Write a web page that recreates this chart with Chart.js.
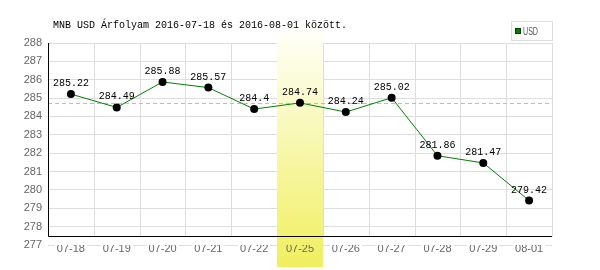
<!DOCTYPE html>
<html>
<head>
<meta charset="utf-8">
<script src="https://cdn.jsdelivr.net/npm/chart.js@4"></script>
<style>
  body { margin: 0; background: #fff; }
  canvas { display: block; }
</style>
</head>
<body>
<canvas id="rateChart" width="600" height="270"></canvas>
<script>
const titleText = 'MNB USD Árfolyam 2016-07-18 és 2016-08-01 között.';
const seriesName = 'USD';
const dates = ['07-18', '07-19', '07-20', '07-21', '07-22', '07-25', '07-26', '07-27', '07-28', '07-29', '08-01'];
const usdRates = [285.22, 284.49, 285.88, 285.57, 284.4, 284.74, 284.24, 285.02, 281.86, 281.47, 279.42];
const highlightDate = '07-25';
const yMin = 277, yMax = 288;

const monoFont = '10px "Liberation Mono", "DejaVu Sans Mono", monospace';
const sansFont = { family: '"Liberation Sans", Arial, sans-serif', size: 11 };

// band, grid columns, axis lines and the reference dashed line
const decorPlugin = {
    id: 'decor',
    beforeDatasetsDraw: (chart) => {
        const { ctx, chartArea } = chart;
        const x = chart.scales.x, y = chart.scales.y;
        const cell = x.width / dates.length;
        const axisY = Math.round(chartArea.bottom - 9) + 0.5;

        ctx.save();
        ctx.strokeStyle = '#dddddd';
        ctx.lineWidth = 1;
        for (let i = 1; i <= dates.length; i++) {
            const gx = Math.round(x.getPixelForValue(i - 1) + cell / 2) + 0.5;
            ctx.beginPath();
            ctx.moveTo(gx, chartArea.top);
            ctx.lineTo(gx, axisY);
            ctx.stroke();
        }

        const hi = dates.indexOf(highlightDate);
        const bx = Math.round(x.getPixelForValue(hi) - cell / 2);
        const grad = ctx.createLinearGradient(0, 30, 0, 267);
        grad.addColorStop(0, '#fffffa');
        grad.addColorStop(1, '#f0ef5e');
        ctx.fillStyle = grad;
        ctx.fillRect(bx, 30, Math.round(cell), 237);

        const dy = Math.round(y.getPixelForValue(usdRates[hi])) + 0.5;
        ctx.strokeStyle = '#a8cca8';
        ctx.setLineDash([4, 3]);
        ctx.beginPath();
        ctx.moveTo(chartArea.left, dy);
        ctx.lineTo(chartArea.right, dy);
        ctx.stroke();
        ctx.setLineDash([]);

        ctx.strokeStyle = '#000';
        ctx.beginPath();
        ctx.moveTo(chartArea.left + 0.5, chartArea.top);
        ctx.lineTo(chartArea.left + 0.5, axisY);
        ctx.lineTo(chartArea.right, axisY);
        ctx.stroke();
        ctx.restore();
    },
    afterDatasetsDraw: (chart) => {
        const { ctx } = chart;
        const meta = chart.getDatasetMeta(0);
        ctx.save();
        ctx.font = monoFont;
        ctx.fillStyle = '#000';
        ctx.textAlign = 'center';
        ctx.textBaseline = 'alphabetic';
        meta.data.forEach((pt, i) => {
            ctx.fillText(String(usdRates[i]), pt.x, pt.y - 8);
        });
        ctx.restore();
    },
    afterDraw: (chart) => {
        const { ctx } = chart;
        ctx.save();
        ctx.font = monoFont;
        ctx.fillStyle = '#000';
        ctx.textBaseline = 'alphabetic';
        ctx.fillText(titleText, 53, 28);

        ctx.strokeStyle = '#dddddd';
        ctx.lineWidth = 1;
        ctx.fillStyle = '#fff';
        ctx.fillRect(511, 21, 42, 20);
        ctx.strokeRect(511.5, 21.5, 41, 19);
        ctx.fillStyle = '#008000';
        ctx.fillRect(515, 28, 6, 6);
        ctx.strokeStyle = '#004400';
        ctx.strokeRect(515.5, 28.5, 5, 5);
        ctx.fillStyle = '#555';
        ctx.font = '10px "Liberation Sans", Arial, sans-serif';
        ctx.fillText(seriesName, 523, 35, 15);
        ctx.restore();
    }
};

new Chart(document.getElementById('rateChart').getContext('2d'), {
    type: 'line',
    data: {
        labels: dates,
        datasets: [{
            label: seriesName,
            data: usdRates,
            borderColor: '#008000',
            borderWidth: 1,
            tension: 0,
            pointRadius: 4,
            pointHoverRadius: 4,
            pointBackgroundColor: '#000',
            pointBorderWidth: 0,
            fill: false
        }]
    },
    options: {
        responsive: false,
        animation: false,
        events: [],
        layout: { padding: { top: 43, right: 48, left: 0, bottom: 0 } },
        plugins: {
            legend: { display: false },
            title: { display: false },
            tooltip: { enabled: false }
        },
        scales: {
            x: {
                offset: true,
                grid: { display: false, drawTicks: false },
                border: { display: false },
                ticks: {
                    color: '#666', font: sansFont, padding: -3, z: 1, maxRotation: 0, autoSkip: false,
                    showLabelBackdrop: true,
                    backdropPadding: { left: 2, right: 2, top: 0, bottom: 0 },
                    backdropColor: (ctx) => dates[ctx.index] === highlightDate ? 'rgba(0,0,0,0)' : '#fff'
                },
                afterFit: (scale) => { scale.height = 25; }
            },
            y: {
                min: yMin,
                max: yMax,
                grid: { color: '#dddddd', drawTicks: false },
                border: { display: false },
                ticks: { stepSize: 1, color: '#666', font: sansFont, padding: 6 },
                afterFit: (scale) => { scale.width = 48; }
            }
        }
    },
    plugins: [decorPlugin]
});
</script>
</body>
</html>
